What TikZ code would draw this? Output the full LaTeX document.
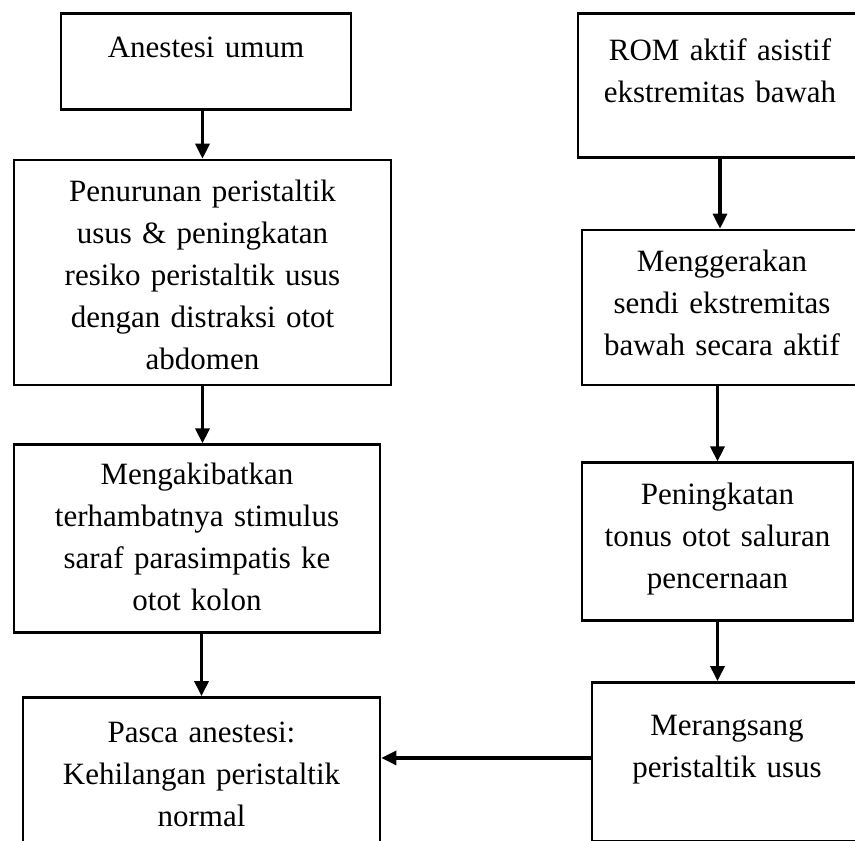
\documentclass[tikz,border=0pt]{standalone}
\usepackage{fontspec}
\setmainfont{Liberation Serif}
\usepackage{tikz}
\usetikzlibrary{arrows.meta, positioning}

\begin{document}
\begin{tikzpicture}[
  x=1pt, y=1pt,
  flowbox/.style={rectangle, draw, line width=2.7pt, inner xsep=4pt, inner ysep=0pt,
                  align=center, anchor=north, font=\fontsize{31}{42}\selectfont},
  arrow/.style={-{Triangle[width=14pt,length=15pt]}, line width=3.2pt},
]
  \useasboundingbox (0,0) rectangle (855,-841);
  \clip (0,0) rectangle (855,-841);

  % left column
  \node[flowbox, text width=282pt, text height=44pt, text depth=52pt] (anes) at (206,-12)
    {Anestesi umum};
  \node[flowbox, text width=369pt, text height=41pt, text depth=184pt,
        below=48pt of anes, xshift=-3.5pt] (turun)
    {Penurunan peristaltik\\usus \& peningkatan\\resiko peristaltik usus\\dengan distraksi otot\\abdomen};
  \node[flowbox, text width=358pt, text height=40pt, text depth=148pt,
        below=57pt of turun, xshift=-5.5pt] (hambat)
    {Mengakibatkan\\terhambatnya stimulus\\saraf parasimpatis ke\\otot kolon};
  \node[flowbox, text width=349pt, text height=45pt, text depth=135pt,
        below=62pt of hambat, xshift=4.5pt] (pasca)
    {Pasca anestesi:\\Kehilangan peristaltik\\normal};

  % right column
  \node[flowbox, text width=276pt, text height=47pt, text depth=97pt] (rom) at (720,-12)
    {ROM aktif asistif\\ekstremitas bawah};
  \node[flowbox, text width=272pt, text height=41pt, text depth=114pt,
        below=70pt of rom, xshift=2pt] (gerak)
    {Menggerakan\\sendi ekstremitas\\bawah secara aktif};
  \node[flowbox, text width=263pt, text height=42pt, text depth=116pt,
        below=75pt of gerak, xshift=-4.5pt] (tonus)
    {Peningkatan\\tonus otot saluran\\pencernaan};
  \node[flowbox, text width=262pt, text height=53pt, text depth=106pt,
        below=59pt of tonus, xshift=9.5pt] (rangsang)
    {Merangsang\\peristaltik usus};

  \draw[arrow] (anes.south -| turun.north) -- (turun.north);
  \draw[arrow] (turun.south) -- (turun.south |- hambat.north);
  \draw[arrow] (hambat.south -| pasca.north) -- (pasca.north);

  \draw[arrow] (rom.south) -- (rom.south |- gerak.north);
  \draw[arrow] (tonus.north |- gerak.south) -- (tonus.north);
  \draw[arrow] (tonus.south) -- (tonus.south |- rangsang.north);

  \draw[arrow] ([yshift=4pt]rangsang.west) -- ([yshift=4pt]rangsang.west -| pasca.east);
\end{tikzpicture}
\end{document}
